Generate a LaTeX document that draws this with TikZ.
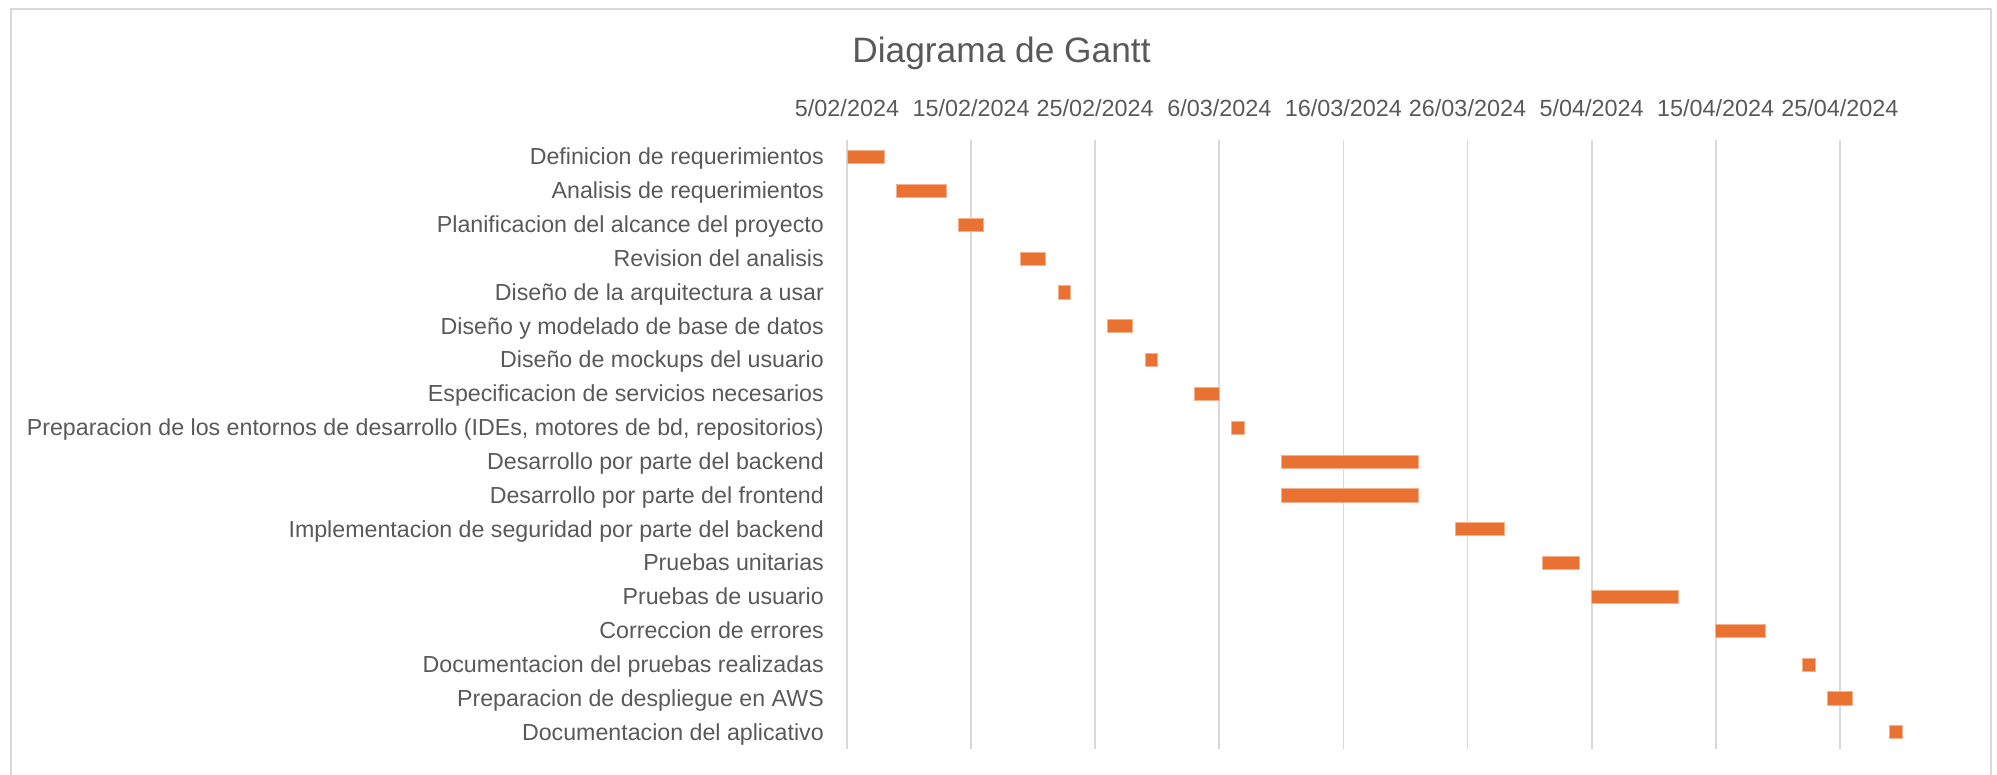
\documentclass[tikz,border=0pt]{standalone}
\usepackage{fontspec}
\setmainfont{Liberation Sans}
\definecolor{txt}{HTML}{595959}
\definecolor{gridc}{HTML}{D9D9D9}
\definecolor{barc}{HTML}{E97132}
\begin{document}
\begin{tikzpicture}[x=1pt,y=-1pt,
  frame/.style={draw=gridc,line width=2.2pt},
  gridline/.style={draw=gridc,line width=1.8pt},
  cat/.style={text=txt,font=\fontsize{23.2}{28}\selectfont,inner sep=0pt,anchor=base east},
  datelbl/.style={text=txt,font=\fontsize{23.4}{28}\selectfont,inner sep=0pt,anchor=base},
  ttl/.style={text=txt,font=\fontsize{35.3}{42}\selectfont,inner sep=0pt,anchor=base},
  barnode/.style={fill=barc,draw=barc!55!white,line width=0.6pt,inner sep=0pt,outer sep=0pt,
    minimum height=13.2pt,anchor=west}]
\useasboundingbox (0,0) rectangle (1997,774);
% frame
\coordinate (fbl) at (11,776);
\coordinate (ftl) at (11,9.3);
\coordinate (ftr) at (1991,9.3);
\coordinate (fbr) at (1991,776);
\draw[frame] (fbl) -- (ftl) -- (ftr) -- (fbr);
% title
\node[ttl] (title) at (1001.5,62.3) {Diagrama de Gantt};
% gridlines and date labels
\foreach \k in {0,...,8}{
  \coordinate (gt\k) at ({847+124.1*\k},140);
  \coordinate (gb\k) at ({847+124.1*\k},749);
  \draw[gridline] (gt\k) -- (gb\k);
}
\node[datelbl] (d0) at ({847+124.1*0},116.7) {5/02/2024};
\node[datelbl] (d1) at ({847+124.1*1},116.7) {15/02/2024};
\node[datelbl] (d2) at ({847+124.1*2},116.7) {25/02/2024};
\node[datelbl] (d3) at ({847+124.1*3},116.7) {6/03/2024};
\node[datelbl] (d4) at ({847+124.1*4},116.7) {16/03/2024};
\node[datelbl] (d5) at ({847+124.1*5},116.7) {26/03/2024};
\node[datelbl] (d6) at ({847+124.1*6},116.7) {5/04/2024};
\node[datelbl] (d7) at ({847+124.1*7},116.7) {15/04/2024};
\node[datelbl] (d8) at ({847+124.1*8},116.7) {25/04/2024};
% tasks
\foreach \i/\s/\l/\t in {
  1/0/3/{Definicion de requerimientos},
  2/4/4/{Analisis de requerimientos},
  3/9/2/{Planificacion del alcance del proyecto},
  4/14/2/{Revision del analisis},
  5/17/1/{Diseño de la arquitectura a usar},
  6/21/2/{Diseño y modelado de base de datos},
  7/24/1/{Diseño de mockups del usuario},
  8/28/2/{Especificacion de servicios necesarios},
  9/31/1/{Preparacion de los entornos de desarrollo (IDEs, motores de bd, repositorios)},
  10/35/11/{Desarrollo por parte del backend},
  11/35/11/{Desarrollo por parte del frontend},
  12/49/4/{Implementacion de seguridad por parte del backend},
  13/56/3/{Pruebas unitarias},
  14/60/7/{Pruebas de usuario},
  15/70/4/{Correccion de errores},
  16/77/1/{Documentacion del pruebas realizadas},
  17/79/2/{Preparacion de despliegue en AWS},
  18/84/1/{Documentacion del aplicativo}}{
  \pgfmathsetmacro{\yc}{140+33.833*(\i-0.5)}
  \node[cat] (c\i) at (824,{\yc+8}) {\t};
  \node[barnode,minimum width={12.41*\l}] (b\i) at ({847+12.41*\s},\yc) {};
}
\end{tikzpicture}
\end{document}
